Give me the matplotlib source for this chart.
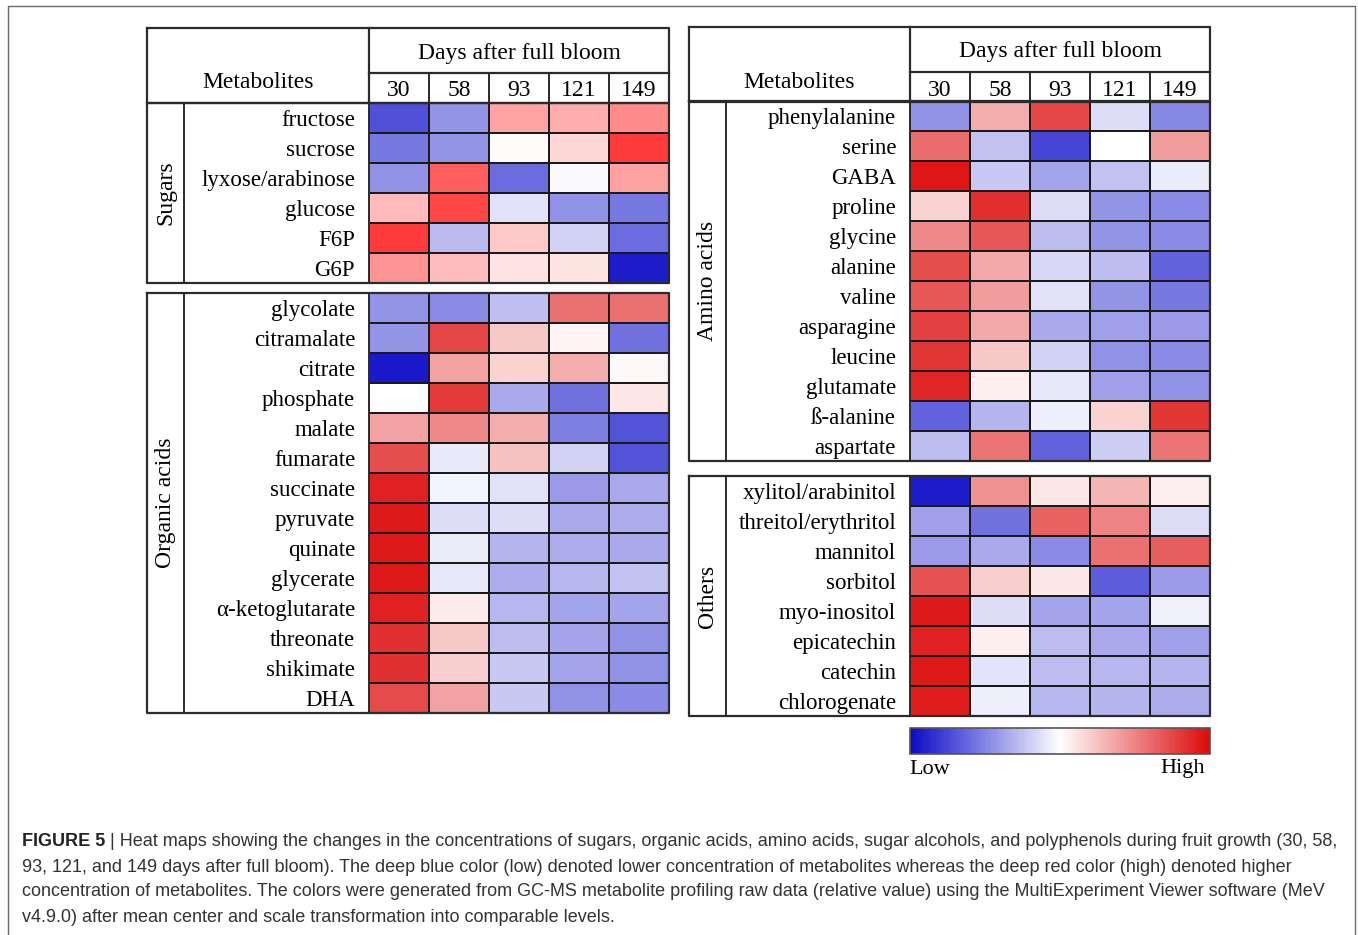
import numpy as np
import matplotlib
matplotlib.use("Agg")
import matplotlib.pyplot as plt
from matplotlib.colors import LinearSegmentedColormap
from matplotlib.cm import ScalarMappable
from matplotlib.colors import Normalize

plt.rcParams["font.family"] = ["Liberation Serif", "DejaVu Serif"]

# ---- data (relative level, -1 = low/blue, +1 = high/red) ----
days = ["30", "58", "93", "121", "149"]

sugars = ["fructose", "sucrose", "lyxose/arabinose", "glucose", "F6P", "G6P"]
sugars_vals = [
    [-0.71, -0.43, 0.40, 0.36, 0.51],
    [-0.55, -0.43, 0.02, 0.18, 0.87],
    [-0.45, 0.71, -0.60, -0.02, 0.42],
    [0.30, 0.82, -0.12, -0.45, -0.55],
    [0.87, -0.28, 0.24, -0.18, -0.60],
    [0.47, 0.30, 0.13, 0.12, -0.92],
]

organic = ["glycolate", "citramalate", "citrate", "phosphate", "malate",
           "fumarate", "succinate", "pyruvate", "quinate", "glycerate",
           "α-ketoglutarate", "threonate", "shikimate", "DHA"]
organic_vals = [
    [-0.43, -0.47, -0.26, 0.58, 0.58],
    [-0.43, 0.75, 0.22, 0.05, -0.58],
    [-0.93, 0.38, 0.18, 0.33, 0.03],
    [0.00, 0.80, -0.35, -0.58, 0.10],
    [0.38, 0.48, 0.33, -0.52, -0.70],
    [0.72, -0.09, 0.25, -0.18, -0.70],
    [0.90, -0.04, -0.12, -0.41, -0.35],
    [0.93, -0.14, -0.14, -0.35, -0.33],
    [0.93, -0.08, -0.30, -0.33, -0.35],
    [0.93, -0.10, -0.33, -0.29, -0.25],
    [0.90, 0.08, -0.29, -0.37, -0.37],
    [0.84, 0.22, -0.27, -0.37, -0.45],
    [0.84, 0.20, -0.22, -0.37, -0.45],
    [0.73, 0.38, -0.22, -0.45, -0.47],
]

amino = ["phenylalanine", "serine", "GABA", "proline", "glycine", "alanine",
         "valine", "asparagine", "leucine", "glutamate", "ß-alanine", "aspartate"]
amino_vals = [
    [-0.45, 0.33, 0.75, -0.14, -0.49],
    [0.60, -0.25, -0.76, 0.00, 0.40],
    [0.95, -0.22, -0.37, -0.25, -0.08],
    [0.18, 0.85, -0.14, -0.43, -0.47],
    [0.48, 0.68, -0.27, -0.43, -0.47],
    [0.72, 0.35, -0.16, -0.27, -0.64],
    [0.68, 0.40, -0.12, -0.43, -0.55],
    [0.77, 0.35, -0.35, -0.39, -0.41],
    [0.82, 0.22, -0.18, -0.45, -0.47],
    [0.88, 0.07, -0.10, -0.39, -0.45],
    [-0.64, -0.30, -0.07, 0.18, 0.82],
    [-0.27, 0.57, -0.64, -0.20, 0.57],
]

others = ["xylitol/arabinitol", "threitol/erythritol", "mannitol", "sorbitol",
          "myo-inositol", "epicatechin", "catechin", "chlorogenate"]
others_vals = [
    [-0.92, 0.45, 0.10, 0.30, 0.07],
    [-0.39, -0.58, 0.64, 0.50, -0.14],
    [-0.41, -0.35, -0.47, 0.58, 0.66],
    [0.70, 0.20, 0.10, -0.66, -0.41],
    [0.93, -0.14, -0.37, -0.37, -0.06],
    [0.90, 0.07, -0.27, -0.35, -0.39],
    [0.93, -0.11, -0.27, -0.29, -0.30],
    [0.92, -0.07, -0.29, -0.30, -0.33],
]

caption_lines = [
    " | Heat maps showing the changes in the concentrations of sugars, organic acids, amino acids, sugar alcohols, and polyphenols during fruit growth (30, 58,",
    "93, 121, and 149 days after full bloom). The deep blue color (low) denoted lower concentration of metabolites whereas the deep red color (high) denoted higher",
    "concentration of metabolites. The colors were generated from GC-MS metabolite profiling raw data (relative value) using the MultiExperiment Viewer software (MeV",
    "v4.9.0) after mean center and scale transformation into comparable levels.",
]

# ---- layout (pixels) ----
W, H = 1358, 935
ROW_H = 30
CELL_W = 60
BLUE, WHITE = "#0A0AC8", "#FFFFFF"
cmap = LinearSegmentedColormap.from_list("mev", [BLUE, WHITE, "#DC0A0A"])
# the sugar panel was printed with a brighter red
cmap_bright = LinearSegmentedColormap.from_list("mev2", [BLUE, WHITE, "#FF1E1E"])
line_c = "#2b2b2b"

fig = plt.figure(figsize=(W / 100, H / 100), dpi=100)


def px_axes(x, y, w, h):
    return fig.add_axes([x / W, 1 - (y + h) / H, w / W, h / H])


def heat_block(x, y, names, vals, cm):
    n = len(names)
    ax = px_axes(x, y, 5 * CELL_W, n * ROW_H)
    ax.pcolormesh(np.array(vals), cmap=cm, vmin=-1, vmax=1,
                  edgecolors="#1a1a1a", linewidth=1.1)
    ax.set_xlim(0, 5)
    ax.set_ylim(n, 0)
    ax.set_xticks([])
    ax.set_yticks(np.arange(n) + 0.5, names)
    ax.tick_params(axis="y", length=0, pad=10, labelsize=16.5)
    for lab in ax.get_yticklabels():
        lab.set_va("center_baseline")
    for s in ax.spines.values():
        s.set_visible(False)
    return ax


# panels: (left, group col right, heat start, header top, blocks)
panels = [
    dict(L=147, G=184, X=369, T=28,
         blocks=[("Sugars", sugars, sugars_vals, 103, cmap_bright),
                 ("Organic acids", organic, organic_vals, 293, cmap)]),
    dict(L=689, G=726, X=910, T=27,
         blocks=[("Amino acids", amino, amino_vals, 101, cmap),
                 ("Others", others, others_vals, 476, cmap)]),
]

for p in panels:
    for label, names, vals, top, cm in p["blocks"]:
        heat_block(p["X"], top, names, vals, cm)

# overlay axes in pixel coordinates for table lines and text
base = fig.add_axes([0, 0, 1, 1])
base.set_xlim(0, W)
base.set_ylim(H, 0)
base.axis("off")
base.patch.set_visible(False)

# outer frame of the figure
base.plot([8, 8, 1355, 1355], [H, 6, 6, H], color="#6a6a6a", lw=1.0)

for p in panels:
    L, G, X, T = p["L"], p["G"], p["X"], p["T"]
    R = X + 5 * CELL_W
    HB = T + 75          # header bottom
    DL = HB - 30         # line above day numbers
    # header box
    base.plot([L, R, R, L, L], [T, T, HB, HB, T], color=line_c, lw=1.6)
    base.plot([X, X], [T, HB], color=line_c, lw=1.6)
    base.plot([X, R], [DL, DL], color=line_c, lw=1.6)
    for j in range(1, 5):
        base.plot([X + j * CELL_W] * 2, [DL, HB], color=line_c, lw=1.4)
    for j, d in enumerate(days):
        base.text(X + (j + 0.5) * CELL_W, HB - 12, d, ha="center", va="center", fontsize=17)
    base.text((X + R) / 2, T + 25, "Days after full bloom", ha="center", va="center", fontsize=17)
    base.text((L + X) / 2, T + 55, "Metabolites", ha="center", va="center", fontsize=17)

    for label, names, vals, top, cm in p["blocks"]:
        bot = top + len(names) * ROW_H
        base.plot([L, R, R, L, L], [top, top, bot, bot, top], color=line_c, lw=1.6)
        base.plot([G, G], [top, bot], color=line_c, lw=1.4)
        base.plot([X, X], [top, bot], color=line_c, lw=1.4)
        base.text((L + G) / 2, (top + bot) / 2, label, rotation=90,
                  ha="center", va="center", fontsize=17)

# colour bar
cax = px_axes(910, 728, 300, 26)
cb = fig.colorbar(ScalarMappable(norm=Normalize(-1, 1), cmap=cmap), cax=cax,
                  orientation="horizontal")
cb.set_ticks([])
cb.outline.set_edgecolor("#555555")
cb.outline.set_linewidth(1.2)
base.text(909, 769, "Low", ha="left", va="center", fontsize=16)
base.text(1205, 769, "High", ha="right", va="center", fontsize=16)

# caption
cap_font = ["Liberation Sans", "DejaVu Sans"]
cap_size = 13
renderer = fig.canvas.get_renderer()
bold = base.text(22, 841, "FIGURE 5", family=cap_font, fontweight="bold",
                 fontsize=cap_size, color="#222222", ha="left", va="center")
bb = bold.get_window_extent(renderer=renderer)
base.text(bb.x1, 841, caption_lines[0], family=cap_font, fontsize=cap_size,
          color="#333333", ha="left", va="center")
for i, line in enumerate(caption_lines[1:], start=1):
    base.text(22, 842 + 25 * i, line, family=cap_font, fontsize=cap_size,
              color="#333333", ha="left", va="center")

fig.savefig("out.png", dpi=100)
